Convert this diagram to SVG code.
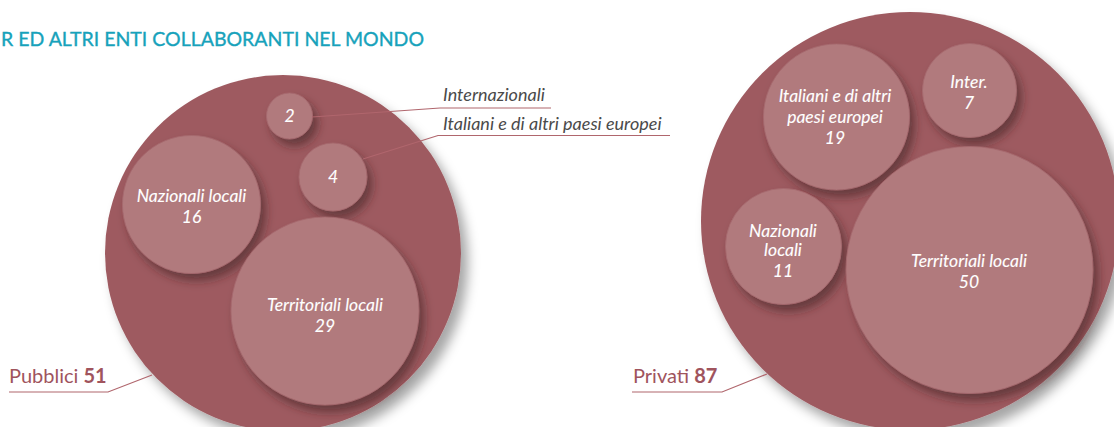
<svg xmlns="http://www.w3.org/2000/svg" width="1114" height="427" viewBox="0 0 1114 427">
<defs>
<filter id="bigShadow" x="-20%" y="-20%" width="150%" height="150%">
<feDropShadow dx="7" dy="9" stdDeviation="6" flood-color="#000" flood-opacity="0.35"/>
</filter>
<filter id="innerShadow" x="-30%" y="-30%" width="170%" height="170%">
<feDropShadow dx="5" dy="7" stdDeviation="5" flood-color="#3a1a1e" flood-opacity="0.55"/>
</filter>
</defs>
<style>
.big{fill:#9e5a60;filter:url(#bigShadow)}
.inner{fill:#b17a7d;stroke:#a66a6e;stroke-width:0.8;filter:url(#innerShadow)}
.lbl{font-family:Lato,"Open Sans",sans-serif;font-style:italic;font-size:17.5px;fill:#ffffff;text-anchor:middle;stroke:#ffffff;stroke-width:0.1}
.call{font-family:Lato,"Open Sans",sans-serif;font-style:italic;font-size:18px;fill:#4a4a4a}
.tot{font-family:Lato,"Open Sans",sans-serif;font-size:20px;fill:#a0545d}
.title{font-family:Lato,"Open Sans",sans-serif;font-size:19.5px;fill:#17a2bb;stroke:#17a2bb;stroke-width:0.35}
.conn{fill:none;stroke:#b0666d;stroke-width:1.2}
</style>
<rect width="1114" height="427" fill="#ffffff"/>
<text class="title" x="1" y="46">R ED ALTRI ENTI COLLABORANTI NEL MONDO</text>

<g id="pubblici">
<circle class="big" cx="283" cy="253" r="178"/>
<text class="tot" x="9" y="383">Pubblici <tspan font-weight="bold">51</tspan></text>
</g>
<g id="pub-internazionali">
<circle class="inner" cx="289.5" cy="116" r="23"/>
<text class="lbl" x="289.5" y="122">2</text>
<text class="call" x="443" y="101">Internazionali</text>
</g>
<g id="pub-italiani">
<circle class="inner" cx="333" cy="177" r="34"/>
<text class="lbl" x="333" y="183">4</text>
<text class="call" x="443" y="130">Italiani e di altri paesi europei</text>
</g>
<g id="pub-nazionali">
<circle class="inner" cx="191.5" cy="204.5" r="69"/>
<text class="lbl" x="191.5" y="202">Nazionali locali</text>
<text class="lbl" x="191.5" y="223">16</text>
</g>
<g id="pub-territoriali">
<circle class="inner" cx="325" cy="311" r="94"/>
<text class="lbl" x="325" y="311">Territoriali locali</text>
<text class="lbl" x="325" y="332">29</text>
</g>

<g id="privati">
<circle class="big" cx="910" cy="221" r="209"/>
<text class="tot" x="633" y="383">Privati <tspan font-weight="bold">87</tspan></text>
</g>
<g id="priv-italiani">
<circle class="inner" cx="836.5" cy="117" r="73"/>
<text class="lbl" x="835" y="102">Italiani e di altri</text>
<text class="lbl" x="835" y="123">paesi europei</text>
<text class="lbl" x="835" y="144">19</text>
</g>
<g id="priv-inter">
<circle class="inner" cx="969.5" cy="90.5" r="47"/>
<text class="lbl" x="969" y="88">Inter.</text>
<text class="lbl" x="969" y="109">7</text>
</g>
<g id="priv-nazionali">
<circle class="inner" cx="783.5" cy="246.5" r="58"/>
<text class="lbl" x="783" y="237">Nazionali</text>
<text class="lbl" x="783" y="256">locali</text>
<text class="lbl" x="783" y="277">11</text>
</g>
<g id="priv-territoriali">
<circle class="inner" cx="969.5" cy="270" r="123.5"/>
<text class="lbl" x="969" y="267">Territoriali locali</text>
<text class="lbl" x="969" y="288">50</text>
</g>

<g id="connectors">
<polyline class="conn" points="312,117 440,108 551,108"/>
<polyline class="conn" points="363,159 438,135.5 670,135.5"/>
<polyline class="conn" points="9,392 108,392 152,375"/>
<polyline class="conn" points="632,392 722,392 767,374"/>
</g>
</svg>
